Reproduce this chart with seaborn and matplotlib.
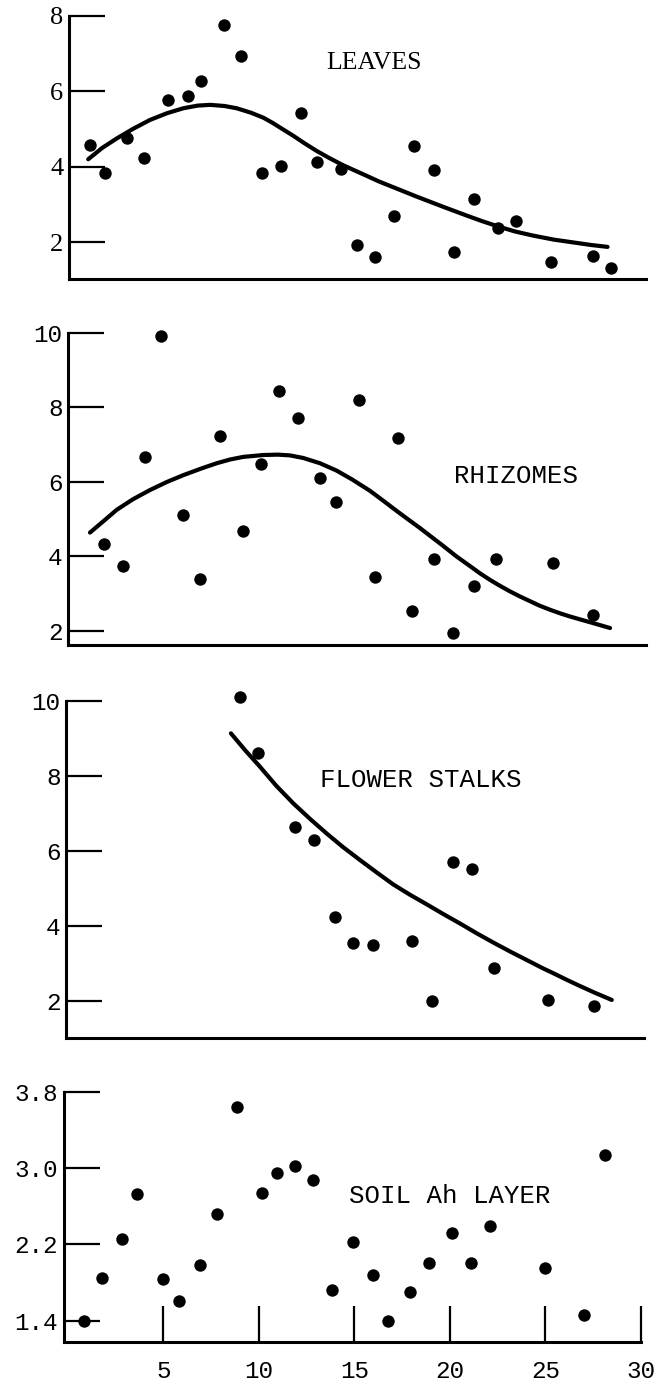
import matplotlib
matplotlib.use("Agg")
import matplotlib.pyplot as plt
import seaborn as sns

# ---- data: sample position along the transect and measured values ----
leaves_x = [1.16, 1.96, 3.08, 3.97, 5.25, 6.29, 6.96, 8.17, 9.08, 10.18, 11.16, 12.21, 13.04,
            14.31, 15.16, 16.09, 17.10, 18.15, 19.15, 20.20, 21.25, 22.54, 23.44, 25.31, 27.52, 28.42]
leaves_y = [4.58, 3.83, 4.75, 4.24, 5.78, 5.87, 6.28, 7.76, 6.94, 3.84, 4.03, 5.42, 4.12,
            3.94, 1.92, 1.61, 2.70, 4.55, 3.92, 1.74, 3.15, 2.37, 2.56, 1.48, 1.63, 1.31]
leaves_fit_x = [1.07, 1.8, 2.56, 3.4, 4.30, 5.2, 6.05, 6.8, 7.45, 8.2, 8.84, 9.6, 10.24, 10.7,
                11.11, 11.81, 12.4, 13.03, 13.7, 14.42, 15.65, 16.3, 17.04, 18.27, 19.66, 20.88,
                21.7, 22.54, 23.4, 24.35, 25.47, 26.58, 27.4, 28.26]
leaves_fit_y = [4.20, 4.50, 4.75, 5.00, 5.24, 5.42, 5.55, 5.62, 5.64, 5.61, 5.55, 5.43, 5.30, 5.17,
                5.04, 4.82, 4.62, 4.42, 4.23, 4.04, 3.76, 3.61, 3.46, 3.21, 2.94, 2.71,
                2.56, 2.42, 2.29, 2.18, 2.07, 1.99, 1.93, 1.88]

rhizomes_x = [1.92, 2.88, 4.06, 4.87, 6.03, 6.92, 7.99, 9.15, 10.11, 11.07, 12.05, 13.19, 14.02,
              15.27, 16.09, 17.30, 18.03, 19.19, 20.18, 21.27, 22.41, 25.40, 27.48]
rhizomes_y = [4.33, 3.74, 6.67, 9.92, 5.11, 3.40, 7.24, 4.69, 6.48, 8.44, 7.70, 6.10, 5.45,
              8.20, 3.44, 7.17, 2.55, 3.92, 1.94, 3.22, 3.94, 3.82, 2.43]
rhizomes_fit_x = [1.16, 1.9, 2.56, 3.4, 4.30, 5.2, 6.05, 7.0, 7.80, 8.5, 9.19, 10.24, 11.0, 11.63,
                  12.33, 13.2, 14.08, 14.9, 15.82, 16.5, 17.22, 17.8, 18.44, 19.05, 19.66, 20.35,
                  21.06, 21.6, 22.11, 22.6, 23.16, 23.7, 24.20, 24.7, 25.25, 25.8, 26.29, 26.9,
                  27.45, 28.39]
rhizomes_fit_y = [4.64, 4.96, 5.25, 5.53, 5.78, 6.00, 6.18, 6.36, 6.50, 6.60, 6.67, 6.72, 6.73, 6.71,
                  6.64, 6.50, 6.30, 6.06, 5.76, 5.50, 5.22, 5.00, 4.76, 4.52, 4.28, 4.00,
                  3.74, 3.54, 3.37, 3.22, 3.06, 2.92, 2.80, 2.68, 2.57, 2.47, 2.39, 2.30,
                  2.22, 2.08]

stalks_x = [9.04, 9.97, 11.92, 12.88, 13.99, 14.93, 15.98, 18.03, 19.06, 20.15, 21.14, 22.30, 25.15, 27.54]
stalks_y = [10.09, 8.61, 6.64, 6.29, 4.22, 3.53, 3.48, 3.60, 2.00, 5.71, 5.52, 2.86, 2.02, 1.86]
stalks_fit_x = [8.54, 9.3, 10.06, 10.9, 11.81, 12.7, 13.55, 14.4, 15.30, 16.2, 17.04, 17.9, 18.79,
                19.66, 20.53, 21.4, 22.28, 23.2, 24.20, 24.85, 25.51, 26.15, 26.82, 27.6, 28.48]
stalks_fit_y = [9.13, 8.67, 8.24, 7.74, 7.26, 6.84, 6.46, 6.10, 5.75, 5.41, 5.10, 4.83, 4.57,
                4.31, 4.06, 3.80, 3.55, 3.30, 3.04, 2.87, 2.71, 2.55, 2.39, 2.21, 2.02]

soil_x = [0.85, 1.81, 2.83, 3.64, 5.00, 5.82, 6.90, 7.81, 8.88, 10.15, 10.96, 11.90, 12.85,
          13.82, 14.93, 15.98, 16.74, 17.92, 18.93, 20.09, 21.09, 22.09, 24.97, 27.03, 28.14]
soil_y = [1.40, 1.85, 2.26, 2.73, 1.84, 1.61, 1.98, 2.52, 3.64, 2.74, 2.95, 3.02, 2.87,
          1.72, 2.23, 1.88, 1.40, 1.70, 2.01, 2.32, 2.00, 2.39, 1.95, 1.46, 3.14]

leaves_ticks = [2, 4, 6, 8]
tall_ticks = [2, 4, 6, 8, 10]
soil_ticks = [1.4, 2.2, 3.0, 3.8]
x_ticks = [5, 10, 15, 20, 25, 30]

sns.set_theme(style="ticks")
MONO = ["Liberation Mono", "DejaVu Sans Mono"]
SERIF = ["Liberation Serif", "DejaVu Serif"]
plt.rcParams["font.family"] = MONO

W, H = 669, 1391
fig = plt.figure(figsize=(W / 100, H / 100), dpi=100, facecolor="white")

X0, XS = 67.8, 19.1  # pixel column of x = 0, pixels per x unit


def panel(left, right, top, bottom, ylim, yticks, fmt, tickfont, tick_size):
    ax = fig.add_axes([left / W, 1 - bottom / H, (right - left) / W, (bottom - top) / H])
    ax.set_facecolor("white")
    ax.set_xlim((left - X0) / XS, (right - X0) / XS)
    ax.set_ylim(*ylim)
    for side in ("top", "right"):
        ax.spines[side].set_visible(False)
    for side in ("left", "bottom"):
        ax.spines[side].set_linewidth(2.2)
        ax.spines[side].set_color("black")
    ax.set_yticks(yticks)
    ax.set_yticklabels([fmt.format(v) for v in yticks], family=tickfont, fontsize=tick_size)
    ax.tick_params(axis="y", direction="in", length=26, width=1.6, pad=4, colors="black")
    ax.tick_params(axis="x", bottom=False, labelbottom=False)
    ax.set_xlabel("")
    ax.set_ylabel("")
    return ax


def draw(ax, xs, ys, fx=None, fy=None):
    sns.scatterplot(x=xs, y=ys, ax=ax, color="black", s=80, linewidth=0, clip_on=False, zorder=3)
    if fx is not None:
        sns.lineplot(x=fx, y=fy, ax=ax, color="black", linewidth=3.0, sort=False,
                     estimator=None, zorder=2)


ax1 = panel(69, 646, 15.7, 279, (1.03, 8), leaves_ticks, "{:d}", SERIF, 19)
draw(ax1, leaves_x, leaves_y, leaves_fit_x, leaves_fit_y)

ax2 = panel(68, 646, 332.7, 645, (1.625, 10), tall_ticks, "{:d}", MONO, 17.5)
draw(ax2, rhizomes_x, rhizomes_y, rhizomes_fit_x, rhizomes_fit_y)

ax3 = panel(66, 644, 700.7, 1037.7, (1.013, 10), tall_ticks, "{:d}", MONO, 17.5)
draw(ax3, stalks_x, stalks_y, stalks_fit_x, stalks_fit_y)

ax4 = panel(63.5, 641, 1091.7, 1342.3, (1.174, 3.8), soil_ticks, "{:.1f}", MONO, 17.5)
draw(ax4, soil_x, soil_y)
ax4.set_xticks(x_ticks)
ax4.set_xticklabels([str(v) for v in x_ticks], family=MONO, fontsize=17.5)
ax4.tick_params(axis="x", bottom=True, labelbottom=True, direction="in", length=26,
                width=1.6, pad=13, colors="black")


# panel names
def name(text, left_px, base_px, family, size):
    fig.text(left_px / W, 1 - base_px / H, text, ha="left", va="baseline",
             family=family, fontsize=size, color="black")


name("LEAVES", 326, 69.3, SERIF, 18.5)
name("RHIZOMES", 454, 483.3, MONO, 18.5)
name("FLOWER STALKS", 319.7, 786.7, MONO, 18.5)
name("SOIL Ah LAYER", 348.7, 1203.3, MONO, 18.5)

fig.savefig("out.png", dpi=100, facecolor="white")
